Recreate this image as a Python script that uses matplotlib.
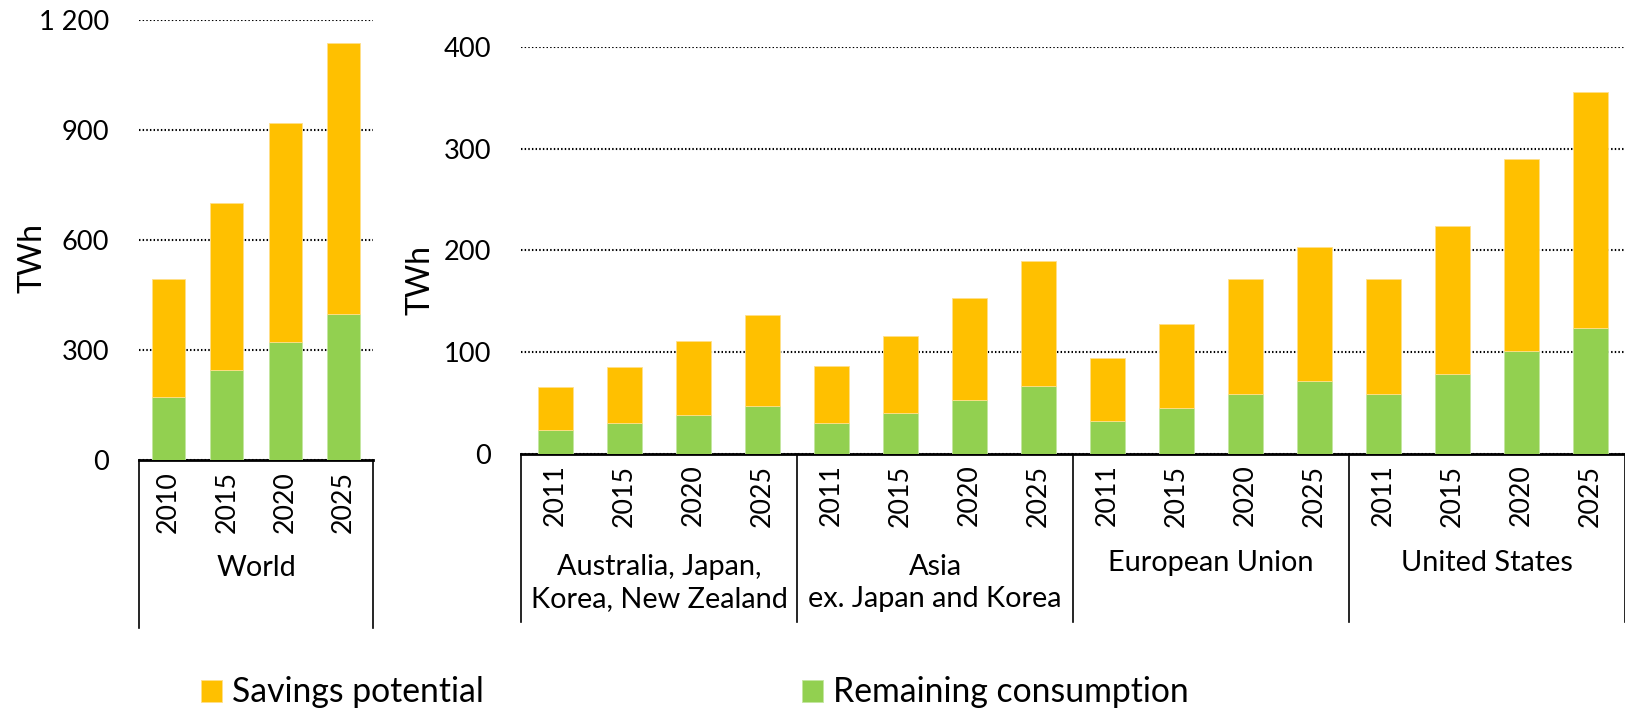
import numpy as np
import matplotlib
matplotlib.use('Agg')
import matplotlib.pyplot as plt
from matplotlib.transforms import blended_transform_factory

# ---------------- data ----------------
world_years = ['2010', '2015', '2020', '2025']
world_remaining = [171, 245, 321, 398]
world_savings = [322, 457, 599, 740]

region_years = ['2011', '2015', '2020', '2025'] * 4
region_names = ['Australia, Japan,\nKorea, New Zealand', 'Asia\nex. Japan and Korea',
                'European Union', 'United States']
region_remaining = [23, 30, 38, 47,
                    30, 40, 53, 66,
                    32, 45, 59, 71,
                    59, 78, 101, 124]
region_savings = [42, 55, 73, 89,
                  56, 76, 100, 124,
                  62, 83, 113, 132,
                  113, 146, 189, 232]

left_ticks = [0, 300, 600, 900, 1200]
left_tick_labels = ['0', '300', '600', '900', '1 200']
right_ticks = [0, 100, 200, 300, 400]
right_tick_labels = ['0', '100', '200', '300', '400']

savings_label = 'Savings potential'
remaining_label = 'Remaining consumption'
unit_label = 'TWh'

# ---------------- style ----------------
plt.rcParams['font.family'] = ['Lato', 'DejaVu Sans']
ORANGE = '#FFC000'
GREEN = '#92D050'

W, H = 1625, 711
fig = plt.figure(figsize=(W / 100, H / 100), dpi=100)
renderer = fig.canvas.get_renderer()


def fit_size(s, target_px, base=20.0):
    t = fig.text(0, 0, s, fontsize=base)
    w = t.get_window_extent(renderer).width
    t.remove()
    return base * target_px / w


tick_fs = fit_size('1 200', 70)
year_fs = fit_size('2010', 62)
cat_fs = fit_size('Korea, New Zealand', 257)
leg_fs = fit_size(savings_label, 253)
unit_fs = fit_size(unit_label, 70)


def rect(x0, ytop, x1, ybot):
    return [x0 / W, (H - ybot) / H, (x1 - x0) / W, (ybot - ytop) / H]


axL = fig.add_axes(rect(139, 20, 373, 460))
axR = fig.add_axes(rect(521, 47.3, 1625, 453.5))


def style_axis(ax, ticks, tick_labels, ymax, n):
    ax.set_ylim(0, ymax)
    ax.set_xlim(-0.5, n - 0.5)
    ax.set_yticks(ticks, tick_labels)
    ax.yaxis.grid(True, color='black', linestyle=(0, (0.7, 1.05)), linewidth=1.5)
    ax.set_axisbelow(True)
    for s in ['left', 'right', 'top']:
        ax.spines[s].set_visible(False)
    ax.spines['bottom'].set_linewidth(2)
    ax.spines['bottom'].set_color('black')
    ax.tick_params(axis='y', length=0, pad=21.6, labelsize=tick_fs)
    ax.tick_params(axis='x', length=0, pad=8.0, labelsize=year_fs)


# Left: World
xL = np.arange(len(world_years))
axL.bar(xL, world_remaining, width=0.56, color=GREEN, edgecolor='#C4E6A0', linewidth=0.6, zorder=3)
axL.bar(xL, world_savings, bottom=world_remaining, width=0.56, color=ORANGE,
        edgecolor='#FFE08A', linewidth=0.6, zorder=3)
style_axis(axL, left_ticks, left_tick_labels, 1200, len(world_years))
axL.set_xticks(xL, world_years, rotation=90)

# Right: regions
xR = np.arange(len(region_years))
bR1 = axR.bar(xR, region_remaining, width=0.5, color=GREEN, edgecolor='#C4E6A0',
              linewidth=0.6, zorder=3, label=remaining_label)
bR2 = axR.bar(xR, region_savings, bottom=region_remaining, width=0.5, color=ORANGE,
              edgecolor='#FFE08A', linewidth=0.6, zorder=3, label=savings_label)
style_axis(axR, right_ticks, right_tick_labels, 400, len(region_years))
axR.set_xticks(xR, region_years, rotation=90)

# Category boxes
axL_h = 460 - 20
axR_h = 453.5 - 47.3
tL = blended_transform_factory(axL.transData, axL.transAxes)
tR = blended_transform_factory(axR.transData, axR.transAxes)
for xv in [-0.5, len(world_years) - 0.5]:
    axL.plot([xv, xv], [0, -(628 - 460) / axL_h], color='black', lw=1.2,
             transform=tL, clip_on=False)
axL.text(1.5, -(568 - 460) / axL_h, 'World', transform=tL, ha='center', va='center',
         fontsize=cat_fs)

for g in range(5):
    xv = g * 4 - 0.5
    axR.plot([xv, xv], [0, -(622 - 453.5) / axR_h], color='black', lw=1.2,
             transform=tR, clip_on=False)
for g, name in enumerate(region_names):
    yc = 583 if '\n' in name else 563
    axR.text(g * 4 + 1.5, -(yc - 453.5) / axR_h, name, transform=tR, ha='center',
             va='center', fontsize=cat_fs, linespacing=1.3, multialignment='center')

# Y labels
axL.set_ylabel(unit_label, fontsize=unit_fs, va='baseline')
axL.yaxis.set_label_coords((41 - 139) / 234, (460 - 258) / axL_h)
axR.set_ylabel(unit_label, fontsize=unit_fs, va='baseline')
axR.yaxis.set_label_coords((430 - 521) / 1104, (453.5 - 280) / axR_h)

# Legend
leg_px = leg_fs * 100 / 72
fig.legend(handles=[bR2, bR1], labels=[savings_label, remaining_label],
           loc='center left', bbox_to_anchor=(201 / W, (H - 692.5) / H), ncol=2,
           frameon=False, fontsize=leg_fs, handlelength=21 / leg_px, handleheight=21 / leg_px,
           handletextpad=10 / leg_px, columnspacing=318 / leg_px, borderpad=0,
           borderaxespad=0)

fig.savefig('out.png', dpi=100)
